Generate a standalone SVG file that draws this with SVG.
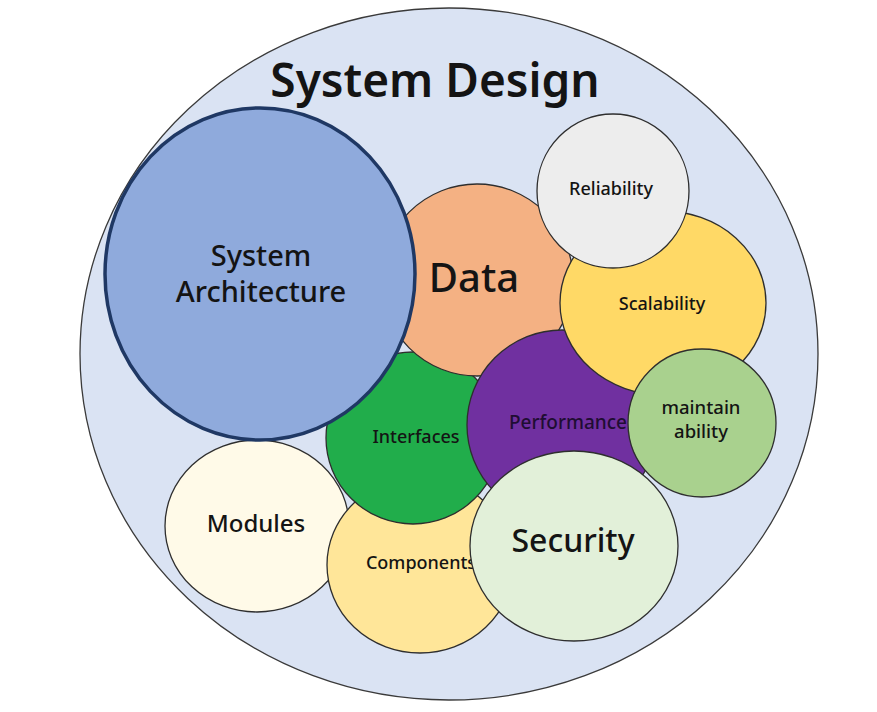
<svg xmlns="http://www.w3.org/2000/svg" width="877" height="712" viewBox="0 0 877 712">
<style>
  text { font-family: "Noto Sans", "Open Sans", "Liberation Sans", sans-serif; fill: #141414; text-anchor: middle; font-weight: 500; }
  .c { stroke: #2e2e2e; stroke-width: 1.3; }
  .t18 { font-size: 18px; }
  .t19 { font-size: 18.5px; }
</style>
<rect width="877" height="712" fill="#ffffff"/>
<g id="system-design">
  <ellipse cx="449" cy="354" rx="369" ry="346" fill="#dae3f3" stroke="#3a3a3a" stroke-width="1.3"/>
  <text x="435" y="97" style="font-size:46px;font-weight:600">System Design</text>
</g>
<g id="modules">
  <ellipse class="c" cx="257" cy="526" rx="92" ry="86" fill="#fffae8"/>
  <text x="256" y="532" style="font-size:24px">Modules</text>
</g>
<g id="components">
  <ellipse class="c" cx="420" cy="565" rx="93" ry="88" fill="#ffe699"/>
  <text class="t18" x="421" y="569">Components</text>
</g>
<g id="interfaces">
  <ellipse class="c" cx="413" cy="438" rx="87" ry="86" fill="#21ad4b"/>
  <text class="t18" x="416" y="443">Interfaces</text>
</g>
<g id="data">
  <ellipse class="c" cx="477" cy="280" rx="96" ry="96" fill="#f4b183"/>
  <text x="474" y="292" style="font-size:40px">Data</text>
</g>
<g id="system-architecture">
  <ellipse cx="260" cy="274" rx="155" ry="166" fill="#8faadc" stroke="#1f3864" stroke-width="3.5"/>
  <text x="261" y="266" style="font-size:29px">System</text>
  <text x="261" y="302" style="font-size:29px">Architecture</text>
</g>
<g id="performance">
  <ellipse class="c" cx="562" cy="425" rx="95" ry="95" fill="#7030a0"/>
  <text x="568" y="429" style="font-size:19px;fill:#1f0d33">Performance</text>
</g>
<g id="scalability">
  <ellipse class="c" cx="663" cy="303" rx="103" ry="92" fill="#ffd966"/>
  <text class="t18" x="662" y="310">Scalability</text>
</g>
<g id="reliability">
  <ellipse class="c" cx="613" cy="191" rx="76" ry="77" fill="#ededed"/>
  <text class="t18" x="611" y="195">Reliability</text>
</g>
<g id="maintainability">
  <ellipse class="c" cx="702" cy="423" rx="74" ry="74" fill="#a9d18e"/>
  <text class="t19" x="701" y="414">maintain</text>
  <text class="t19" x="701" y="438">ability</text>
</g>
<g id="security">
  <ellipse class="c" cx="574" cy="546" rx="104" ry="95" fill="#e2f0d9"/>
  <text x="573" y="552" style="font-size:32px">Security</text>
</g>
<g id="connectors"></g>
</svg>
